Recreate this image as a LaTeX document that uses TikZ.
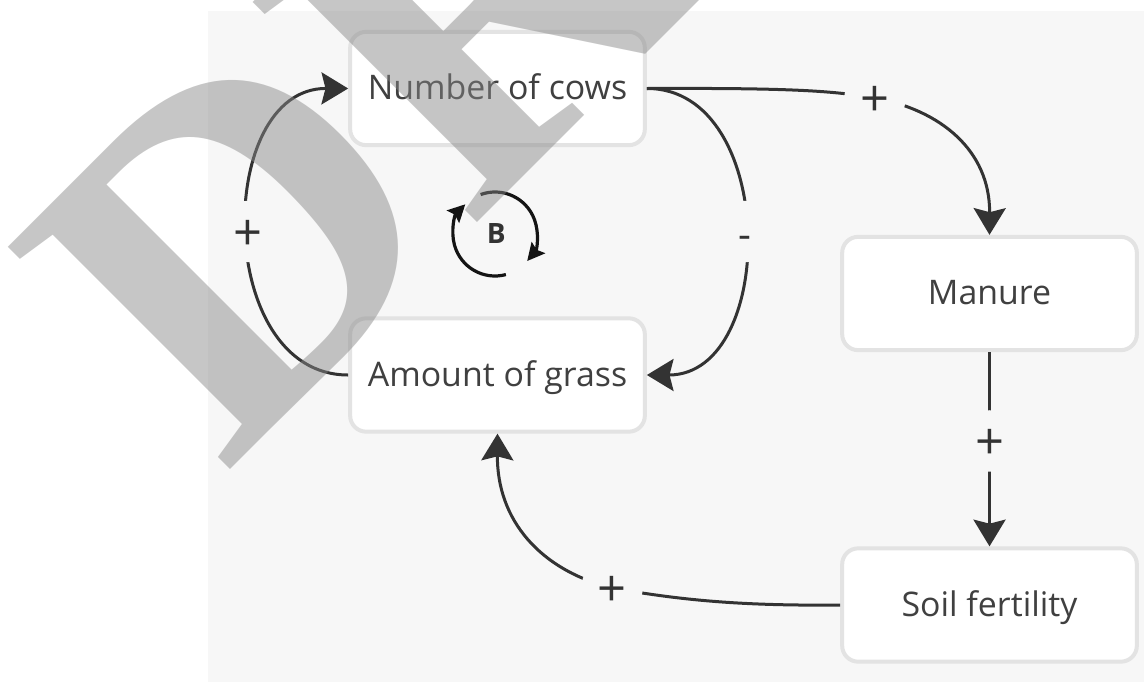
\documentclass[tikz,border=0pt]{standalone}
\usepackage{fontspec}
\newfontfamily\osans{Open Sans}
\newfontfamily\wmfont{Liberation Serif}
\usetikzlibrary{arrows.meta}
\definecolor{bg}{HTML}{F7F7F7}
\definecolor{boxline}{HTML}{E3E3E3}
\definecolor{ink}{HTML}{333333}
\definecolor{txt}{HTML}{404040}
\definecolor{wm}{RGB}{135,135,135}
\tikzset{
  box/.style={draw=boxline, line width=3pt, fill=white, rounded corners=12pt,
    minimum width=221pt, minimum height=85pt, inner sep=0pt, text=txt,
    font=\osans\fontsize{25.4}{30}\selectfont, text height=17pt, text depth=0pt},
  conn/.style={draw=ink, line width=2.25pt, -{Stealth[length=20pt,width=24pt,inset=3pt]}},
  sign/.style={circle, fill=bg, minimum size=46pt, inner sep=0pt, text=ink,
    font=\osans\fontsize{38}{40}\selectfont, text height=28pt, text depth=0pt},
  minus/.style={sign, font=\osans\fontsize{30}{32}\selectfont, text height=25pt},
  loopline/.style={draw=black!92, line width=2.4pt, -{Stealth[length=13pt,width=13pt,inset=2pt]}},
}
\begin{document}
\begin{tikzpicture}[x=0.75pt,y=-0.75pt]
\useasboundingbox (0,0) rectangle (1144,682);
\fill[bg] (208,11) rectangle (1144,682);
\node[box] (cows) at (497.5,88.5) {Number of cows};
\node[box] (grass) at (497.5,375) {Amount of grass};
\node[box] (manure) at (989.5,293.5) {Manure};
\node[box] (soil) at (989.5,605) {Soil fertility};

\draw[conn] (grass.west) .. controls (214,375) and (214,88) .. node[sign,pos=0.5]{+} (cows.west);
\draw[conn] (cows.east) .. controls (778,88) and (778,375) .. node[minus,pos=0.5]{-} (grass.east);
\draw[conn] (cows.east) .. controls (780,88) and (830,90) .. (875,98) node[sign]{+}
  .. controls (940,110) and (990,150) .. (manure.north);
\draw[conn] (manure.south) -- node[sign,pos=0.457]{+} (soil.north);
\draw[conn] (soil.west) .. controls (740,606) and (680,600) .. (612,588) node[sign]{+}
  .. controls (540,570) and (497,520) .. (grass.south);

\coordinate (loopc) at (495,234);
\draw[loopline] (loopc) ++(75:42) arc[start angle=75,end angle=225,radius=42];
\draw[loopline] (loopc) ++(250:42) arc[start angle=250,end angle=400,radius=42];
\node[text=ink, font=\osans\bfseries\fontsize{21}{22}\selectfont] (bl) at ([xshift=1pt]loopc) {B};

\begin{scope}
\clip (0,0) rectangle (1144,682);
\node[rotate=45, anchor=base west, inner sep=0pt, text=wm, opacity=0.48,
  font=\wmfont\bfseries\fontsize{360}{360}\selectfont] (wmark) at (224,476) {DRAFT};
\end{scope}
\end{tikzpicture}
\end{document}
